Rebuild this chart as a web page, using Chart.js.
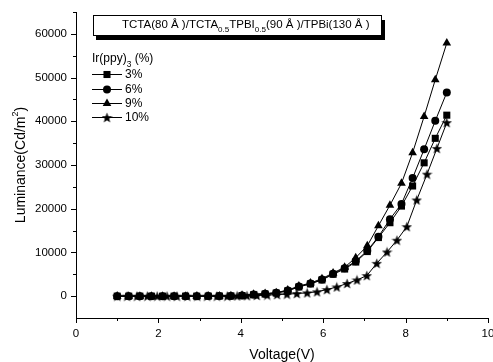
<!DOCTYPE html>
<html>
<head>
<meta charset="utf-8">
<script src="https://cdn.jsdelivr.net/npm/chart.js@4.4.1/dist/chart.umd.min.js"></script>
<style>
  html, body { margin: 0; padding: 0; background: #fff; }
  #wrap { width: 493px; height: 362px; }
</style>
</head>
<body>
<div id="wrap"><canvas id="myChart" width="493" height="362"></canvas></div>
<script>
// voltage steps for 3%, 6%, 9% devices
const volts = [1.00, 1.28, 1.55, 1.83, 2.10, 2.38, 2.66, 2.93, 3.21, 3.48,
  3.76, 4.03, 4.31, 4.59, 4.86, 5.14, 5.41, 5.69, 5.97, 6.24,
  6.52, 6.79, 7.07, 7.34, 7.62, 7.90, 8.17, 8.45, 8.72, 9.00];
// the 10% device was measured on a finer step
const volts10 = [1.00, 1.24, 1.48, 1.73, 1.97, 2.21, 2.45, 2.70, 2.94, 3.18,
  3.42, 3.67, 3.91, 4.15, 4.39, 4.64, 4.88, 5.12, 5.36, 5.61,
  5.85, 6.09, 6.33, 6.58, 6.82, 7.06, 7.30, 7.55, 7.79, 8.03,
  8.27, 8.52, 8.76, 9.00];

const lum3 = [0, 0, 0, 0, 0, 0, 0, 0, 10, 20,
  50, 120, 300, 480, 700, 1200, 2100, 2800, 3700, 5000,
  6200, 7800, 10200, 13400, 16800, 20600, 25200, 30500, 36100, 41400];
const lum6 = [0, 0, 0, 0, 0, 0, 0, 0, 10, 30,
  60, 150, 400, 550, 750, 1300, 2200, 2900, 3800, 5100,
  6400, 8000, 10400, 13600, 17600, 21100, 27000, 33600, 40100, 46600];
const lum9 = [0, 0, 0, 0, 0, 0, 0, 0, 10, 30,
  70, 200, 450, 600, 800, 1400, 2300, 3000, 4000, 5300,
  6600, 8800, 11500, 16100, 20800, 25800, 32800, 41100, 49500, 57900];
const lum10 = [0, 0, 0, 0, 0, 0, 0, 0, 0, 0,
  0, 0, 50, 100, 150, 250, 350, 450, 600, 750,
  1000, 1500, 2100, 2900, 3700, 4700, 7500, 10100, 12800, 15900,
  22000, 27900, 33800, 39700];

const seriesLabels = ['3%', '6%', '9%', '10%'];

const FONT = '"Liberation Sans", Arial, sans-serif';

// filled 5 point star used as the marker of the 10% curve
function makeStar(size) {
  const c = document.createElement('canvas');
  c.width = size; c.height = size;
  const g = c.getContext('2d');
  const cx = size / 2, cy = size / 2 + 0.5, ro = size / 2, ri = ro * 0.42;
  g.beginPath();
  for (let i = 0; i < 10; i++) {
    const r = i % 2 ? ri : ro;
    const a = -Math.PI / 2 + i * Math.PI / 5;
    g.lineTo(cx + r * Math.cos(a), cy + r * Math.sin(a));
  }
  g.closePath();
  g.fillStyle = '#000';
  g.fill();
  return c;
}
const star = makeStar(11);

function pts(xs, ys) {
  return xs.map((v, i) => ({ x: v, y: ys[i] }));
}

function drawMarker(ctx, style, x, y, r) {
  ctx.fillStyle = '#000';
  if (style instanceof HTMLCanvasElement) {
    ctx.drawImage(style, x - style.width / 2, y - style.height / 2);
    return;
  }
  ctx.beginPath();
  if (style === 'rect') {
    const s = Math.SQRT1_2 * r;
    ctx.rect(x - s, y - s, 2 * s, 2 * s);
  } else if (style === 'triangle') {
    for (let k = 0; k < 3; k++) {
      const a = k * 2 * Math.PI / 3;
      ctx.lineTo(x + Math.sin(a) * r, y - Math.cos(a) * r);
    }
    ctx.closePath();
  } else {
    ctx.arc(x, y, r, 0, Math.PI * 2);
  }
  ctx.fill();
}

// text with subscripts, segments: [text, isSub]
function drawRich(ctx, segs, x, y, size) {
  ctx.textBaseline = 'middle';
  ctx.textAlign = 'left';
  segs.forEach(([t, sub]) => {
    ctx.font = (sub ? size * 0.7 : size) + 'px ' + FONT;
    ctx.fillText(t, x, sub ? y + size * 0.45 : y);
    x += ctx.measureText(t).width;
  });
  return x;
}

const decorations = {
  id: 'decorations',
  afterDraw(chart) {
    const ctx = chart.ctx;
    const xs = chart.scales.x, ys = chart.scales.y;
    const area = chart.chartArea;
    ctx.save();
    ctx.strokeStyle = '#000';
    ctx.lineWidth = 1;
    // ticks, long on labelled values, short in between
    ys.ticks.forEach(t => {
      if (t.value <= ys.min) return;
      const py = Math.round(ys.getPixelForValue(t.value)) + 0.5;
      const len = t.value % 10000 === 0 ? 5 : 3;
      ctx.beginPath();
      ctx.moveTo(area.left - len, py);
      ctx.lineTo(area.left, py);
      ctx.stroke();
    });
    xs.ticks.forEach(t => {
      const px = Math.round(xs.getPixelForValue(t.value)) + 0.5;
      const len = t.value % 2 === 0 ? 5 : 3;
      ctx.beginPath();
      ctx.moveTo(px, area.bottom);
      ctx.lineTo(px, area.bottom + len);
      ctx.stroke();
    });

    // axis titles
    ctx.fillStyle = '#000';
    ctx.textAlign = 'center';
    ctx.textBaseline = 'middle';
    ctx.font = '14px ' + FONT;
    ctx.fillText('Voltage(V)', (area.left + area.right) / 2, 355);

    ctx.save();
    ctx.translate(21, (area.top + area.bottom) / 2);
    ctx.rotate(-Math.PI / 2);
    const a = 'Luminance(Cd/m', b = '2', c = ')';
    ctx.font = '14px ' + FONT;
    const wa = ctx.measureText(a).width, wc = ctx.measureText(c).width;
    ctx.font = '9px ' + FONT;
    const wb = ctx.measureText(b).width;
    const sx = -(wa + wb + wc) / 2;
    ctx.textAlign = 'left';
    ctx.font = '14px ' + FONT;
    ctx.fillText(a, sx, 0);
    ctx.font = '9px ' + FONT;
    ctx.fillText(b, sx + wa, -5);
    ctx.font = '14px ' + FONT;
    ctx.fillText(c, sx + wa + wb, 0);
    ctx.restore();

    // device structure box with drop shadow
    ctx.fillStyle = '#000';
    ctx.fillRect(96, 20, 289, 20);
    ctx.fillStyle = '#fff';
    ctx.fillRect(93, 15, 289, 20);
    ctx.strokeRect(93.5, 15.5, 288, 20);
    ctx.fillStyle = '#000';
    drawRich(ctx, [['TCTA(80 Å )/TCTA', false], ['0.5', true], ['TPBI', false],
      ['0.5', true], ['(90 Å )/TPBi(130 Å )', false]], 122, 25, 11.5);

    // legend
    drawRich(ctx, [['Ir(ppy)', false], ['3', true], [' (%)', false]], 92, 59, 12);
    const rows = [74, 89, 103, 117];
    chart.data.datasets.forEach((ds, i) => {
      const y = rows[i] + 0.5;
      ctx.beginPath();
      ctx.moveTo(92, y);
      ctx.lineTo(122, y);
      ctx.stroke();
      drawMarker(ctx, ds.pointStyle, 107, y, ds.pointRadius);
      ctx.fillStyle = '#000';
      ctx.font = '12px ' + FONT;
      ctx.textAlign = 'left';
      ctx.textBaseline = 'middle';
      ctx.fillText(ds.label, 125, y);
    });
    ctx.restore();
  }
};

const common = {
  borderColor: '#000',
  backgroundColor: '#000',
  pointBackgroundColor: '#000',
  pointBorderColor: '#000',
  pointBorderWidth: 0,
  borderWidth: 1,
  tension: 0,
  fill: false
};

new Chart(document.getElementById('myChart').getContext('2d'), {
  type: 'line',
  data: {
    datasets: [
      { ...common, label: seriesLabels[0], data: pts(volts, lum3), pointStyle: 'rect', pointRadius: 5 },
      { ...common, label: seriesLabels[1], data: pts(volts, lum6), pointStyle: 'circle', pointRadius: 4 },
      { ...common, label: seriesLabels[2], data: pts(volts, lum9), pointStyle: 'triangle', pointRadius: 5 },
      { ...common, label: seriesLabels[3], data: pts(volts10, lum10), pointStyle: star, pointRadius: 5 }
    ]
  },
  options: {
    responsive: false,
    animation: false,
    devicePixelRatio: 1,
    layout: { padding: { top: 12, right: 5, left: 0, bottom: 0 } },
    plugins: {
      legend: { display: false },
      tooltip: { enabled: false }
    },
    scales: {
      x: {
        type: 'linear',
        min: 0,
        max: 10,
        afterFit: s => { s.height = 44; s.paddingLeft = 0; s.paddingRight = 0; },
        border: { display: true, color: '#000', width: 1 },
        grid: { display: true, drawOnChartArea: false, drawTicks: false },
        ticks: {
          stepSize: 1,
          padding: 9,
          color: '#000',
          font: { family: FONT, size: 11.5 },
          maxRotation: 0,
          autoSkip: false,
          callback: v => (v % 2 === 0 ? v : '')
        }
      },
      y: {
        min: -5000,
        max: 65000,
        afterFit: s => { s.width = 76; s.paddingTop = 0; s.paddingBottom = 0; },
        border: { display: true, color: '#000', width: 1 },
        grid: { display: true, drawOnChartArea: false, drawTicks: false },
        ticks: {
          stepSize: 5000,
          padding: 9,
          color: '#000',
          font: { family: FONT, size: 11.5 },
          autoSkip: false,
          callback: v => (v % 10000 === 0 ? v : '')
        }
      }
    }
  },
  plugins: [decorations]
});
</script>
</body>
</html>
